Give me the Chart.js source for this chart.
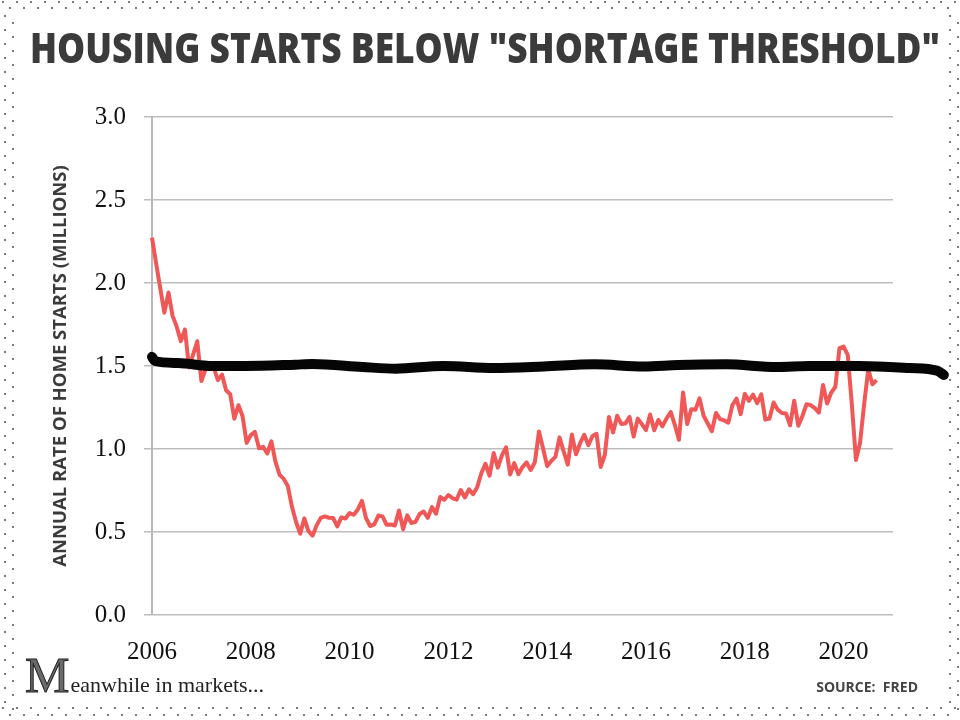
<!DOCTYPE html>
<html>
<head>
<meta charset="utf-8">
<script src="https://cdn.jsdelivr.net/npm/chart.js@4.4.1/dist/chart.umd.min.js"></script>
<style>
html,body{margin:0;padding:0;background:#fff;}
#wrap{position:relative;width:960px;height:720px;}
</style>
</head>
<body>
<div id="wrap"><canvas id="c" width="960" height="720"></canvas></div>
<script>
// ---- text ----
const chartTitle = 'HOUSING STARTS BELOW "SHORTAGE THRESHOLD"';
const yAxisTitle = 'ANNUAL RATE OF HOME STARTS (MILLIONS)';
const sourceText = 'SOURCE:  FRED';
const brandInitial = 'M';
const brandRest = 'eanwhile in markets...';

// ---- data: monthly housing starts, millions (FRED HOUST), Jan..Dec ----
const years = [2006, 2007, 2008, 2009, 2010, 2011, 2012, 2013, 2014, 2015, 2016, 2017, 2018, 2019, 2020];
const starts2006 = [2.273, 2.119, 1.969, 1.821, 1.942, 1.802, 1.737, 1.650, 1.720, 1.491, 1.570, 1.649];
const starts2007 = [1.409, 1.480, 1.495, 1.490, 1.415, 1.448, 1.354, 1.330, 1.183, 1.264, 1.197, 1.037];
const starts2008 = [1.084, 1.103, 1.005, 1.013, 0.973, 1.046, 0.923, 0.844, 0.820, 0.777, 0.652, 0.560];
const starts2009 = [0.490, 0.582, 0.505, 0.478, 0.540, 0.585, 0.594, 0.586, 0.585, 0.534, 0.588, 0.581];
const starts2010 = [0.614, 0.604, 0.636, 0.687, 0.583, 0.536, 0.546, 0.599, 0.594, 0.543, 0.545, 0.539];
const starts2011 = [0.630, 0.517, 0.600, 0.554, 0.561, 0.608, 0.623, 0.585, 0.650, 0.610, 0.711, 0.694];
const starts2012 = [0.723, 0.704, 0.695, 0.753, 0.708, 0.757, 0.728, 0.770, 0.854, 0.911, 0.839, 0.976];
const starts2013 = [0.888, 0.962, 1.010, 0.847, 0.915, 0.848, 0.891, 0.919, 0.873, 0.920, 1.105, 1.003];
const starts2014 = [0.897, 0.928, 0.953, 1.070, 0.985, 0.906, 1.087, 0.968, 1.035, 1.086, 1.023, 1.078];
const starts2015 = [1.091, 0.892, 0.964, 1.193, 1.100, 1.200, 1.151, 1.154, 1.193, 1.075, 1.183, 1.150];
const starts2016 = [1.114, 1.208, 1.113, 1.175, 1.136, 1.184, 1.223, 1.146, 1.056, 1.340, 1.150, 1.240];
const starts2017 = [1.236, 1.305, 1.200, 1.154, 1.107, 1.217, 1.180, 1.172, 1.159, 1.265, 1.303, 1.210];
const starts2018 = [1.332, 1.290, 1.327, 1.276, 1.329, 1.177, 1.184, 1.280, 1.237, 1.217, 1.214, 1.142];
const starts2019 = [1.291, 1.140, 1.199, 1.270, 1.264, 1.246, 1.219, 1.386, 1.274, 1.340, 1.375, 1.608];
const starts2020 = [1.617, 1.567, 1.269, 0.934, 1.038, 1.273, 1.480, 1.390, 1.415];
const startsByYear = [starts2006, starts2007, starts2008, starts2009, starts2010, starts2011, starts2012,
  starts2013, starts2014, starts2015, starts2016, starts2017, starts2018, starts2019, starts2020];

// hand-drawn "shortage threshold" marker
const thresholdYears  = [2006.0, 2006.06, 2006.53, 2007.22, 2007.89, 2008.9, 2009.25, 2010.26, 2010.93, 2011.9, 2012.92,
  2013.93, 2014.95, 2015.96, 2016.65, 2017.62, 2018.64, 2019.31, 2020.32, 2021.34, 2021.89, 2022.03];
const thresholdValues = [1.555, 1.53, 1.518, 1.50, 1.50, 1.508, 1.512, 1.494, 1.484, 1.50, 1.488,
  1.497, 1.51, 1.497, 1.506, 1.51, 1.494, 1.50, 1.50, 1.488, 1.472, 1.446];

// tick labels
const xTickLabels = ['2006', '2008', '2010', '2012', '2014', '2016', '2018', '2020'];
const yTickLabels = ['0.0', '0.5', '1.0', '1.5', '2.0', '2.5', '3.0'];

// ---- build points ----
const startsPoints = [];
years.forEach((yr, i) => startsByYear[i].forEach((v, m) => startsPoints.push({ x: yr + m / 12, y: v })));
const thresholdPoints = thresholdYears.map((x, i) => ({ x: x, y: thresholdValues[i] }));

const X_MIN = Number(xTickLabels[0]);
const X_MAX = 2021;

// ---- decoration plugin: dotted frame, title, footer ----
const decor = {
  id: 'decor',
  beforeDraw(chart) {
    const ctx = chart.ctx;
    ctx.save();
    ctx.fillStyle = '#ffffff';
    ctx.fillRect(0, 0, chart.width, chart.height);
    ctx.fillStyle = '#5a5a5a';
    const dot = (x, y) => { ctx.beginPath(); ctx.arc(x, y, 1.1, 0, Math.PI * 2); ctx.fill(); };
    for (let x = 3; x < 960; x += 14) { dot(x, 2); dot(x + 7, 8); dot(x, 708); dot(x + 7, 715); }
    for (let y = 16; y < 704; y += 14) { dot(5, y); dot(13, y + 7); dot(950, y); dot(958, y + 7); }
    ctx.restore();
  },
  afterDraw(chart) {
    const ctx = chart.ctx;
    ctx.save();
    // title
    ctx.fillStyle = '#3b3b3b';
    ctx.font = '800 42px "Open Sans"';
    ctx.textBaseline = 'alphabetic';
    ctx.textAlign = 'center';
    let w = ctx.measureText(chartTitle).width;
    ctx.translate(485, 63);
    ctx.scale(910 / w, 1);
    ctx.fillText(chartTitle, 0, 0);
    ctx.restore();

    ctx.save();
    // brand
    ctx.textBaseline = 'alphabetic';
    ctx.textAlign = 'left';
    ctx.font = '50px "Liberation Serif"';
    ctx.fillStyle = '#6a6a6a';
    ctx.fillText(brandInitial, 25, 692);
    ctx.lineWidth = 1;
    ctx.strokeStyle = '#222';
    ctx.strokeText(brandInitial, 25, 692);
    const mW = ctx.measureText(brandInitial).width;
    ctx.font = '22px "Liberation Serif"';
    ctx.fillStyle = '#222';
    ctx.fillText(brandRest, 25 + mW + 1, 692);
    // source
    ctx.font = 'bold 14px "Open Sans"';
    ctx.fillStyle = '#444';
    ctx.textAlign = 'right';
    ctx.fillText(sourceText, 918, 692);
    ctx.restore();
  }
};

new Chart(document.getElementById('c'), {
  type: 'line',
  data: {
    datasets: [
      {
        label: 'Shortage threshold',
        data: thresholdPoints,
        borderColor: '#050505',
        borderWidth: 10,
        pointRadius: 0,
        cubicInterpolationMode: 'monotone',
        borderCapStyle: 'round',
        borderJoinStyle: 'round',
        clip: false
      },
      {
        label: 'Housing starts',
        data: startsPoints,
        borderColor: '#f05858',
        borderWidth: 4,
        pointRadius: 0,
        tension: 0,
        borderJoinStyle: 'round'
      }
    ]
  },
  options: {
    responsive: false,
    animation: false,
    devicePixelRatio: 1,
    layout: { padding: { top: 117, right: 67, bottom: 0, left: 0 } },
    plugins: { legend: { display: false }, tooltip: { enabled: false }, title: { display: false } },
    scales: {
      x: {
        type: 'linear',
        bounds: 'data',
        afterDataLimits(s) { s.min = X_MIN; s.max = X_MAX; },
        afterFit(s) { s.height = 105; },
        grid: { display: false, drawTicks: false },
        border: { display: false },
        ticks: {
          stepSize: 2,
          padding: 22,
          autoSkip: false,
          maxRotation: 0,
          color: '#111',
          font: { family: '"Liberation Serif"', size: 25 },
          callback: (v) => xTickLabels.includes(String(v)) ? String(v) : ''
        }
      },
      y: {
        min: 0,
        max: 3,
        afterFit(s) { s.width = 152; },
        grid: { color: '#bdbdbd', lineWidth: 1.5, tickLength: 8, drawTicks: true },
        border: { display: true, color: '#b8b8b8', width: 2 },
        ticks: {
          stepSize: 0.5,
          padding: 18,
          color: '#111',
          font: { family: '"Liberation Serif"', size: 25 },
          callback: (v) => yTickLabels[Math.round(v * 2)]
        },
        title: {
          display: true,
          text: yAxisTitle,
          color: '#3b3b3b',
          font: { family: '"Open Sans"', weight: 'bold', size: 18.5 },
          padding: { top: 50, bottom: 0 }
        }
      }
    }
  },
  plugins: [decor]
});
</script>
</body>
</html>
